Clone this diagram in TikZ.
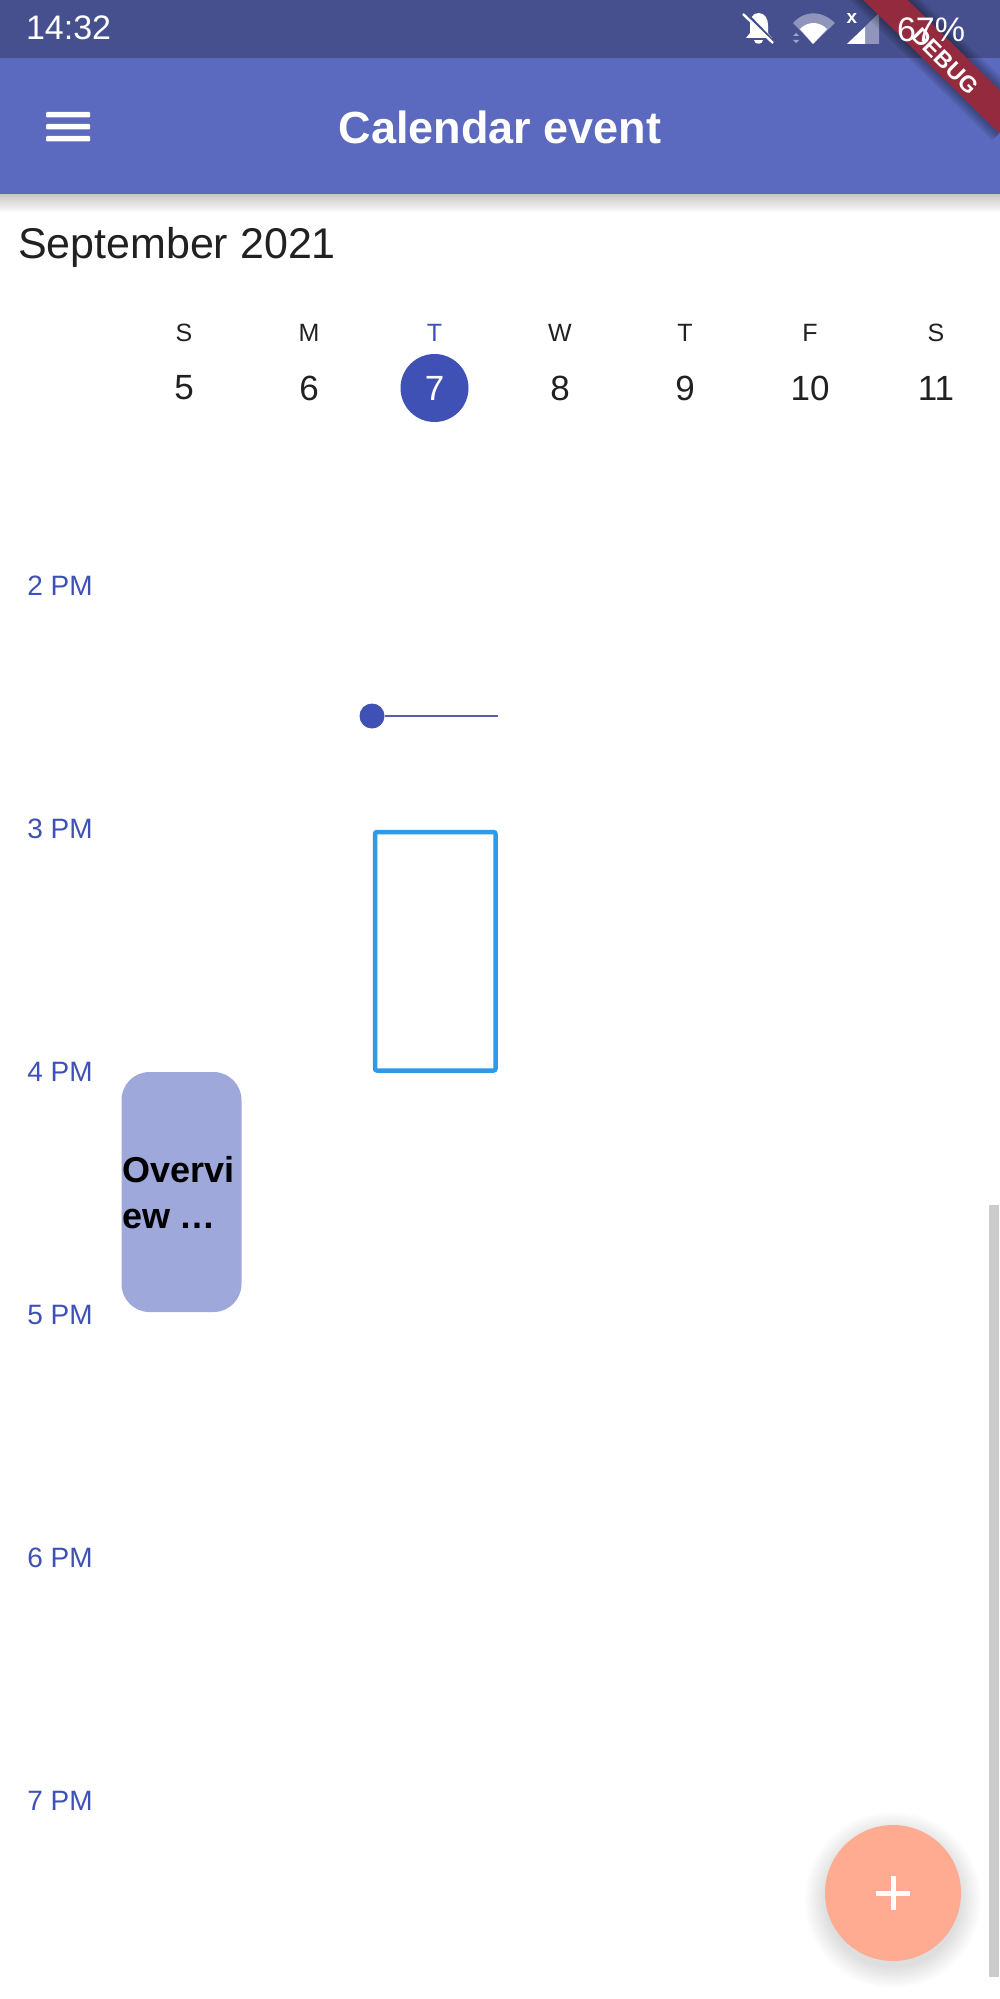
\documentclass[tikz,border=0pt]{standalone}
\usepackage{fontspec}
\setmainfont{Liberation Sans}
\definecolor{statusbar}{HTML}{46508F}
\definecolor{appbar}{HTML}{5B69BE}
\definecolor{indigo}{HTML}{3F51B5}
\definecolor{nowline}{HTML}{5961A5}
\definecolor{eventfill}{HTML}{9FA8DA}
\definecolor{selbox}{HTML}{2E9BEA}
\definecolor{fabfill}{HTML}{FFAB91}
\definecolor{banner}{HTML}{932A3E}
\definecolor{ink}{HTML}{212121}
\definecolor{scrollgrey}{HTML}{CCCCCC}
\newcommand{\px}[1]{\fontsize{#1}{#1}\selectfont}
\tikzset{
  dayname/.style={text=ink,font=\px{25}},
  daynum/.style={text=ink,font=\px{35}},
  hourlabel/.style={text=indigo,font=\px{28}},
  statustext/.style={text=white,font=\px{34}},
  barline/.style={fill=white,rounded corners=1pt},
}
\begin{document}
\begin{tikzpicture}[x=1pt,y=-1pt,inner sep=0pt,outer sep=0pt]
\useasboundingbox (0,0) rectangle (1000,1999);
\fill[white] (0,0) rectangle (1000,1999);
% bars
\shade[top color=black!22,bottom color=white] (0,194) rectangle (1000,213);
\fill[statusbar] (0,0) rectangle (1000,58);
\fill[appbar] (0,58) rectangle (1000,194);
% status text + icons
\node[statustext,anchor=west] (clock) at (26,28) {14:32};
% bell
\fill[white] (758.5,13) .. controls (752,13) and (750,19) .. (750,25) -- (750,33) -- (746,38) -- (772,38) -- (768,33) -- (768,25) .. controls (768,19) and (765,13) .. (758.5,13) -- cycle;
\fill[white] (754,40) -- (763,40) .. controls (763,45) and (754,45) .. (754,40) -- cycle;
\draw[statusbar,line width=2.5pt] (746,13) -- (776,44);
\draw[white,line width=2.4pt] (743,14) -- (773,43);
% wifi
\fill[white,opacity=.4] (813,44) -- (793,23) .. controls (805,10) and (821,10) .. (835,23) -- cycle;
\fill[white] (813,44) -- (800,29) .. controls (808,21) and (819,21) .. (827,29) -- cycle;
\fill[white,opacity=.5] (793,36) -- (796,33) -- (799,36) -- cycle (793,40) -- (799,40) -- (796,43) -- cycle;
% signal
\fill[white,opacity=.4] (879,13) -- (879,44) -- (847,44) -- cycle;
\fill[white] (865,27) -- (865,44) -- (847,44) -- cycle;
\node[text=white,font=\bfseries\px{19}] (sigx) at (852,18) {x};
% banner
\begin{scope}
\clip (0,0) rectangle (1000,194);
\foreach \w in {51,47,43,39,35} {
  \draw[black,opacity=.07,line width=\w pt] (860,-25) -- (1010,122);
}
\draw[banner,line width=31pt] (860,-25) -- (1010,122);
\end{scope}
\node[statustext,anchor=west] (battery) at (897,30) {67\%};
\node[text=white,font=\bfseries\px{23},rotate=-45] (debug) at (945,61) {DEBUG};
% hamburger
\fill[barline] (46,112) rectangle (90,117.5);
\fill[barline] (46,124) rectangle (90,129.5);
\fill[barline] (46,136) rectangle (90,141.5);
\node[text=white,font=\bfseries\px{45}] (title) at (500,127) {Calendar event};
% month
\node[text=ink,font=\px{43},anchor=base west] (month) at (18,258) {September 2021};
% days
\foreach \n/\x/\l/\d in {a/184/S/5,b/309/M/6,d/560/W/8,e/685/T/9,f/810/F/10,g/936/S/11} {
  \node[dayname] (name\n) at (\x,333) {\l};
  \node[daynum] (num\n) at (\x,388) {\d};
}
\node[circle,fill=indigo,minimum size=68pt] (today) at (434.5,388) {};
\node[dayname,text=indigo] (namec) at (434.5,333) {T};
\node[daynum,text=white] (numc) at (434.5,388) {7};
% hours
\foreach \n/\y/\t in {h/586/2 PM,i/829/3 PM,j/1072/4 PM,k/1315/5 PM,l/1558/6 PM,m/1801/7 PM} {
  \node[hourlabel] (\n) at (60,\y) {\t};
}
% now line
\node[circle,fill=indigo,minimum size=25pt] (nowdot) at (372,716) {};
\coordinate (nowend) at (498,716);
\draw[nowline,line width=2pt] (nowdot) -- (nowend);
% selection box
\draw[selbox,line width=4.5pt,rounded corners=2pt] (375,832) rectangle (495.5,1070.5);
% event
\fill[eventfill,rounded corners=28pt] (121.5,1072) rectangle (241.5,1312);
\node[text=black,font=\bfseries\px{36},anchor=base west] (ev1) at (122,1182) {Overvi};
\node[text=black,font=\bfseries\px{36},anchor=base west] (ev2) at (122,1228) {ew …};
% scrollbar
\fill[scrollgrey] (989,1205) rectangle (999,1977);
% FAB
\foreach \r in {88,86,84,82,80,78,76,74,72,70,68} {
  \fill[black,opacity=.012] (893,1900) circle (\r pt);
}
\fill[fabfill] (893,1893) circle (68pt);
\fill[white] (876,1890.5) rectangle (910,1895.5);
\fill[white] (890.5,1876) rectangle (895.5,1910);
\end{tikzpicture}
\end{document}
